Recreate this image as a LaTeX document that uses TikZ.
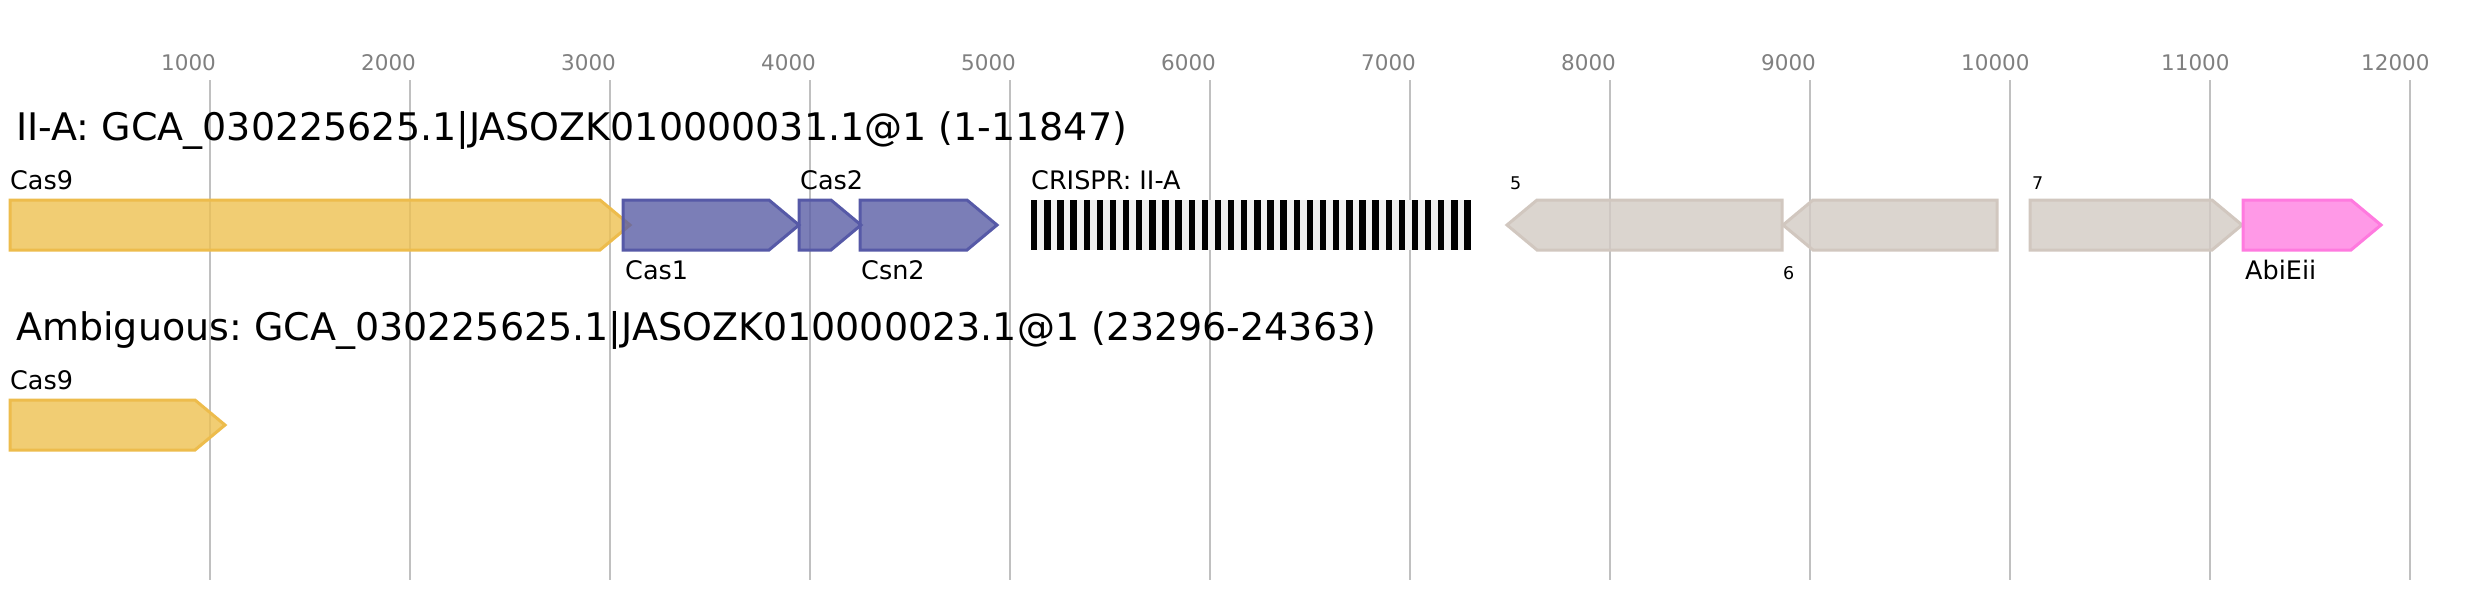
\documentclass[tikz,border=0pt]{standalone}
\usepackage{fontspec}
\setmainfont{DejaVu Sans}
\definecolor{gridc}{HTML}{C0C0C0}
\definecolor{tickc}{HTML}{808080}
\definecolor{casninefill}{RGB}{238,193,81}
\definecolor{casninedraw}{HTML}{EDBC4C}
\definecolor{casonefill}{RGB}{90,94,166}
\definecolor{casonedraw}{HTML}{5659A7}
\definecolor{grayfill}{RGB}{211,203,196}
\definecolor{graydraw}{HTML}{D1C7BF}
\definecolor{abifill}{RGB}{255,128,226}
\definecolor{abidraw}{HTML}{FF7ADF}
\definecolor{crisprbg}{HTML}{F0F0F0}
\tikzset{
  gridline/.style={draw=gridc, line width=2pt},
  ticklabel/.style={anchor=base west, inner sep=0pt, text=tickc, font=\fontsize{21.5}{24}\selectfont},
  titlelabel/.style={anchor=base west, inner sep=0pt, font=\fontsize{38}{41}\selectfont\frenchspacing},
  genelabel/.style={anchor=base west, inner sep=0pt, font=\fontsize{25.5}{28}\selectfont\frenchspacing},
  smalllabel/.style={anchor=base west, inner sep=0pt, font=\fontsize{17.5}{20}\selectfont},
  genebase/.style={line width=3pt, line join=miter, fill opacity=0.8},
  casnine/.style={genebase, draw=casninedraw, fill=casninefill},
  casone/.style={genebase, draw=casonedraw, fill=casonefill},
  grayg/.style={genebase, draw=graydraw, fill=grayfill},
  abig/.style={genebase, draw=abidraw, fill=abifill},
}
% forward gene: style, left, tip, top
\newcommand\genefwd[4]{\path[#1] (#2,#4) -- ({#3-30},#4) -- (#3,{#4+25}) -- ({#3-30},{#4+50}) -- (#2,{#4+50}) -- cycle;}
% reverse gene: style, tip, right, top
\newcommand\generev[4]{\path[#1] (#3,#4) -- ({#2+30},#4) -- (#2,{#4+25}) -- ({#2+30},{#4+50}) -- (#3,{#4+50}) -- cycle;}
\begin{document}
\frenchspacing
\begin{tikzpicture}[x=1pt,y=-1pt]
\useasboundingbox (0,0) rectangle (2469,600);
\fill[white] (0,0) rectangle (2469,600);
% grid and ticks
\foreach \k in {1,...,12} {
  \draw[gridline] ({10+200*\k},80) -- ({10+200*\k},580);
  \node[ticklabel] (tick\k) at ({10+200*\k-49},70) {\the\numexpr\k*1000\relax};
}
% row 1
\node[titlelabel] (title1) at (16,140) {II-A: GCA\_030225625.1|JASOZK010000031.1@1 (1-11847)};
\genefwd{casnine}{10}{630}{200}
\genefwd{casone}{623}{799}{200}
\genefwd{casone}{799}{861}{200}
\genefwd{casone}{860}{997}{200}
\node[genelabel] (lcas9) at (10,189) {Cas9};
\node[genelabel] (lcas1) at (625,279) {Cas1};
\node[genelabel] (lcas2) at (800,189) {Cas2};
\node[genelabel] (lcsn2) at (861,279) {Csn2};
% CRISPR array
\fill[crisprbg] (1031,200) rectangle (1471,250);
\foreach \i in {0,...,33} {
  \fill[black] ({1031+13.13*\i},200) rectangle ({1031+13.13*\i+6.4},250);
}
\node[genelabel] (lcrispr) at (1031,189) {CRISPR: II-A};
\generev{grayg}{1507}{1782}{200}
\generev{grayg}{1783}{1997}{200}
\genefwd{grayg}{2030}{2242}{200}
\genefwd{abig}{2243}{2381}{200}
\node[smalllabel] (l5) at (1510,189) {5};
\node[smalllabel] (l6) at (1783,279) {6};
\node[smalllabel] (l7) at (2032,189) {7};
\node[genelabel] (labi) at (2245,279) {AbiEii};
% row 2
\node[titlelabel] (title2) at (16,340) {Ambiguous: GCA\_030225625.1|JASOZK010000023.1@1 (23296-24363)};
\genefwd{casnine}{10}{225}{400}
\node[genelabel] (lcas9b) at (10,389) {Cas9};
\end{tikzpicture}
\end{document}
